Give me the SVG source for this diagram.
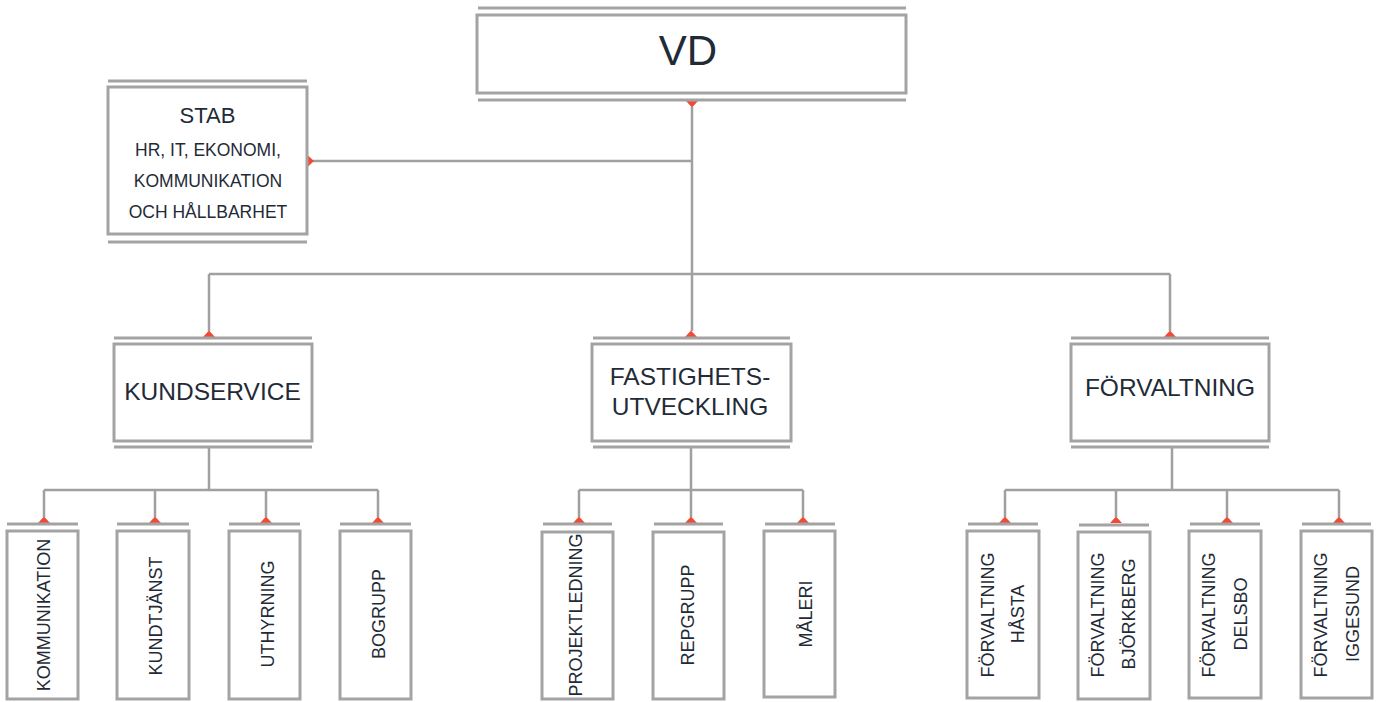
<svg xmlns="http://www.w3.org/2000/svg" width="1379" height="702" viewBox="0 0 1379 702">
<defs>
<style>
.box{fill:#fff;stroke:#a3a3a3;stroke-width:3}
.bar{stroke:#a3a3a3;stroke-width:3;fill:none}
.ln{stroke:#a0a0a0;stroke-width:2.5;fill:none}
.tri{fill:#f04b37}
text{font-family:"Liberation Sans",Arial,sans-serif;fill:#1f2b37}
.big{font-size:42px;text-anchor:middle}
.mid{font-size:24.5px;text-anchor:middle}
.stab{font-size:22px;text-anchor:middle}
.sub{font-size:17.5px;text-anchor:middle}
.ch{font-size:18px;text-anchor:middle}
</style>
</defs>
<rect width="1379" height="702" fill="#fff"/>
<g id="connectors">
<path class="ln" d="M692 107V331M313 161H692M209 274H1170M209 274V331M1170 274V331"/>
<path class="ln" d="M209 447V490M44 490H378M44 490V517M155 490V517M266 490V517M378 490V517"/>
<path class="ln" d="M691 447V490M579 490H803M579 490V517M691 490V517M803 490V517"/>
<path class="ln" d="M1172 447V490M1005 490H1339M1005 490V517M1116 490V517M1227 490V517M1339 490V517"/>
<polygon class="tri" points="686,101 698,101 692,107.5"/>
<polygon class="tri" points="307.5,155 307.5,167 314,161"/>
<polygon class="tri" points="203,337 215,337 209,330.5"/>
<polygon class="tri" points="685,337 697,337 691,330.5"/>
<polygon class="tri" points="1164,337 1176,337 1170,330.5"/>
<polygon class="tri" points="38,523 50,523 44,516.5"/>
<polygon class="tri" points="149,523 161,523 155,516.5"/>
<polygon class="tri" points="260,523 272,523 266,516.5"/>
<polygon class="tri" points="372,523 384,523 378,516.5"/>
<polygon class="tri" points="573,523 585,523 579,516.5"/>
<polygon class="tri" points="685,523 697,523 691,516.5"/>
<polygon class="tri" points="797,523 809,523 803,516.5"/>
<polygon class="tri" points="999,523 1011,523 1005,516.5"/>
<polygon class="tri" points="1110,523 1122,523 1116,516.5"/>
<polygon class="tri" points="1221,523 1233,523 1227,516.5"/>
<polygon class="tri" points="1333,523 1345,523 1339,516.5"/>
</g>
<g id="vd">
<path class="bar" d="M478 8H906M478 100H906"/>
<rect class="box" x="477" y="15" width="429" height="78"/>
<text class="big" x="688" y="65">VD</text>
</g>
<g id="stab">
<path class="bar" d="M108 81H307M108 242H307"/>
<rect class="box" x="108" y="87" width="199" height="147"/>
<text class="stab" x="207.5" y="123">STAB</text>
<text class="sub" x="208" y="156">HR, IT, EKONOMI,</text>
<text class="sub" x="208" y="187">KOMMUNIKATION</text>
<text class="sub" x="208" y="218">OCH HÅLLBARHET</text>
</g>
<g id="kundservice">
<path class="bar" d="M114 338H312M114 447H312"/>
<rect class="box" x="114" y="344" width="198" height="97"/>
<text class="mid" x="212.5" y="400">KUNDSERVICE</text>
</g>
<g id="fastighetsutveckling">
<path class="bar" d="M593 338H790M593 447H790"/>
<rect class="box" x="592" y="344" width="199" height="97"/>
<text class="mid" x="690" y="385">FASTIGHETS-</text>
<text class="mid" x="690" y="415">UTVECKLING</text>
</g>
<g id="forvaltning">
<path class="bar" d="M1071 338H1269M1071 447H1269"/>
<rect class="box" x="1071" y="344" width="198" height="97"/>
<text class="mid" x="1170" y="396">FÖRVALTNING</text>
</g>
<g id="kommunikation">
<path class="bar" d="M7 524H78"/>
<rect class="box" x="7" y="531" width="71" height="168"/>
<text class="ch" transform="translate(43,615) rotate(-90)" dy="6.5">KOMMUNIKATION</text>
</g>
<g id="kundtjanst">
<path class="bar" d="M117 524H189"/>
<rect class="box" x="117" y="531" width="72" height="168"/>
<text class="ch" transform="translate(155,616) rotate(-90)" dy="6.5">KUNDTJÄNST</text>
</g>
<g id="uthyrning">
<path class="bar" d="M229 524H300"/>
<rect class="box" x="229" y="531" width="71" height="168"/>
<text class="ch" transform="translate(267,614) rotate(-90)" dy="6.5">UTHYRNING</text>
</g>
<g id="bogrupp">
<path class="bar" d="M340 524H411"/>
<rect class="box" x="340" y="531" width="71" height="168"/>
<text class="ch" transform="translate(378,614) rotate(-90)" dy="6.5">BOGRUPP</text>
</g>
<g id="projektledning">
<path class="bar" d="M543 524H612"/>
<rect class="box" x="542" y="532" width="71" height="167"/>
<text class="ch" transform="translate(575,615) rotate(-90)" dy="6.5">PROJEKTLEDNING</text>
</g>
<g id="repgrupp">
<path class="bar" d="M654 524H723"/>
<rect class="box" x="653" y="532" width="71" height="167"/>
<text class="ch" transform="translate(687,615) rotate(-90)" dy="6.5">REPGRUPP</text>
</g>
<g id="maleri">
<path class="bar" d="M765 524H835"/>
<rect class="box" x="764" y="531" width="71" height="166"/>
<text class="ch" transform="translate(805,614) rotate(-90)" dy="6.5">MÅLERI</text>
</g>
<g id="forv-hasta">
<path class="bar" d="M968 524H1038"/>
<rect class="box" x="967" y="531" width="72" height="167"/>
<text class="ch" transform="translate(987,615) rotate(-90)" dy="6.5">FÖRVALTNING</text>
<text class="ch" transform="translate(1017,614) rotate(-90)" dy="6.5">HÅSTA</text>
</g>
<g id="forv-bjorkberg">
<path class="bar" d="M1079 525H1149"/>
<rect class="box" x="1078" y="532" width="72" height="167"/>
<text class="ch" transform="translate(1097,615) rotate(-90)" dy="6.5">FÖRVALTNING</text>
<text class="ch" transform="translate(1128,614) rotate(-90)" dy="6.5">BJÖRKBERG</text>
</g>
<g id="forv-delsbo">
<path class="bar" d="M1190 524H1260"/>
<rect class="box" x="1189" y="531" width="72" height="167"/>
<text class="ch" transform="translate(1208,615) rotate(-90)" dy="6.5">FÖRVALTNING</text>
<text class="ch" transform="translate(1240,614) rotate(-90)" dy="6.5">DELSBO</text>
</g>
<g id="forv-iggesund">
<path class="bar" d="M1302 524H1371"/>
<rect class="box" x="1301" y="531" width="71" height="167"/>
<text class="ch" transform="translate(1320,615) rotate(-90)" dy="6.5">FÖRVALTNING</text>
<text class="ch" transform="translate(1352,614) rotate(-90)" dy="6.5">IGGESUND</text>
</g>
</svg>
